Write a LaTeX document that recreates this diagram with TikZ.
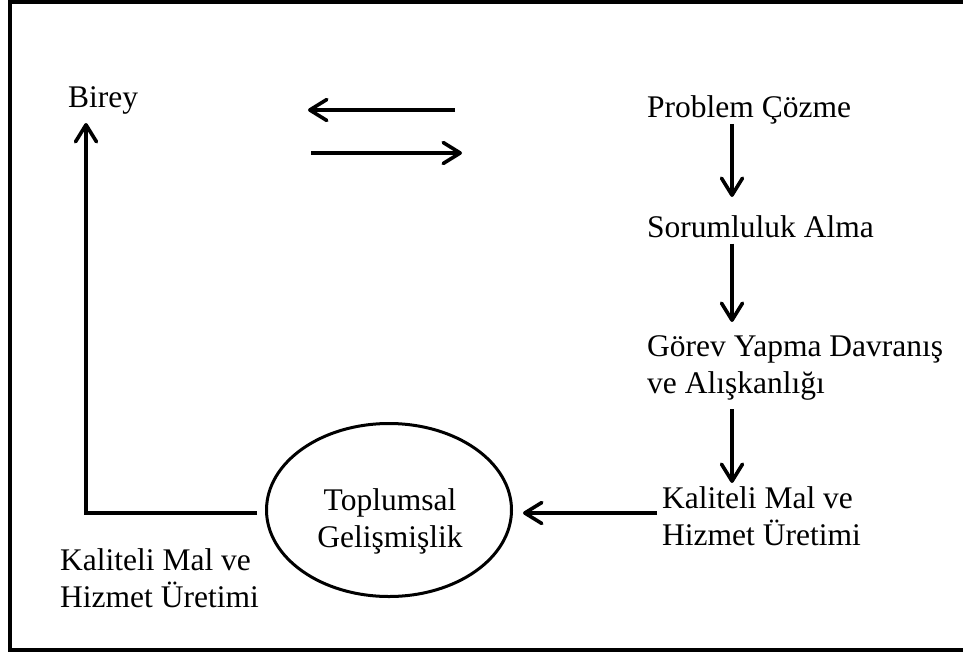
\documentclass[tikz,border=0pt]{standalone}
\usepackage{fontspec}
\setmainfont{Liberation Serif}
\usetikzlibrary{arrows.meta,shapes.geometric}
\tikzset{
  lbl/.style={font=\fontsize{31.5}{37}\selectfont, inner sep=0pt, align=left},
  arr/.style={line width=3.6pt, -{Straight Barb[length=17pt,width=21pt,round]}},
  ell/.style={draw, ellipse, line width=3pt, minimum width=245pt, minimum height=173pt, inner sep=0pt}
}
\begin{document}
\begin{tikzpicture}[x=1pt,y=-1pt]
\useasboundingbox (0,0) rectangle (963,653);
\clip (0,0) rectangle (963,653);
\draw[line width=4.5pt] (10,2) rectangle (990,650);

\node[lbl, anchor=base west] (birey) at (68,107) {Birey};
\node[lbl, anchor=base west] (prob) at (647,117) {Problem Çözme};
\node[lbl, anchor=base west] (sor) at (647,237) {Sorumluluk Alma};
\node[lbl, anchor=base west] (gorev) at (647,393) {Görev Yapma Davranış\\ve Alışkanlığı};
\node[lbl, anchor=base west] (kal) at (662,545) {Kaliteli Mal ve\\Hizmet Üretimi};
\node[lbl, anchor=base west] (kalb) at (60,607) {Kaliteli Mal ve\\Hizmet Üretimi};
\node[ell] (soc) at (389,510) {};
\node[lbl, align=center, anchor=base] (soct) at (390,547) {Toplumsal\\Gelişmişlik};

\coordinate (ax) at (732,0);
\coordinate (lx) at (86,0);
\coordinate (hy) at (0,513);
\coordinate (d1s) at (455,110);
\coordinate (d1e) at (308,110);
\coordinate (d2s) at (311,153);
\coordinate (d2e) at (462,153);

\draw[arr] (d1s) -- (d1e);
\draw[arr] (d2s) -- (d2e);
\draw[arr, shorten >=18pt] (prob.south -| ax) -- (sor.north -| ax);
\draw[arr, shorten <=6pt, shorten >=13pt] (sor.south -| ax) -- (gorev.north -| ax);
\draw[arr, shorten <=9pt, shorten >=3pt] (gorev.south -| ax) -- (kal.north -| ax);
\draw[arr, shorten <=5pt, shorten >=10pt] (kal.west |- hy) -- (soc.east |- hy);
\draw[arr, shorten <=8pt, shorten >=9pt] (soc.west |- hy) -| (birey.south -| lx);
\end{tikzpicture}
\end{document}
